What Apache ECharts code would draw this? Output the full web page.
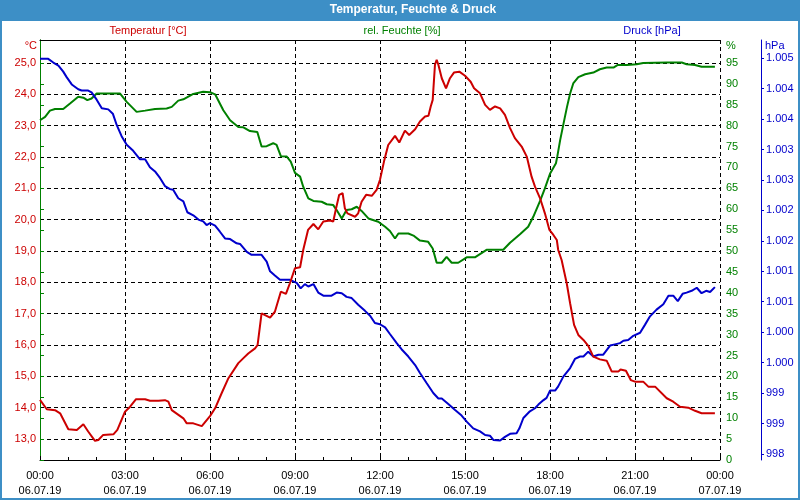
<!DOCTYPE html>
<html><head><meta charset="utf-8">
<script src="https://cdn.jsdelivr.net/npm/echarts@6/dist/echarts.min.js"></script>
<style>html,body{margin:0;padding:0;background:#fff}#c{width:800px;height:500px}</style>
</head><body><div id="c"></div><script>
// time in hours since 06.07.19 00:00
const tempTimes = [0,0.24,0.53,0.71,1.00,1.30,1.53,1.70,1.94,2.06,2.23,2.59,2.73,3.00,3.18,3.39,3.71,3.88,4.18,4.41,4.53,4.65,5.06,5.18,5.41,5.71,6.00,6.18,6.41,6.65,7.00,7.18,7.35,7.59,7.68,7.82,8.12,8.29,8.50,8.68,8.82,9.00,9.18,9.29,9.46,9.65,9.82,10.00,10.24,10.35,10.45,10.56,10.68,10.76,10.85,11.12,11.23,11.35,11.51,11.71,11.88,12.00,12.14,12.29,12.53,12.68,12.88,13.03,13.24,13.41,13.59,13.71,13.79,13.86,13.94,14.00,14.06,14.18,14.33,14.47,14.61,14.80,15.00,15.20,15.32,15.53,15.71,15.88,16.06,16.24,16.41,16.59,16.76,17.00,17.18,17.35,17.47,17.65,17.82,17.98,18.12,18.24,18.29,18.41,18.59,18.71,18.85,19.00,19.18,19.35,19.53,19.76,20.00,20.18,20.41,20.49,20.68,20.85,21.00,21.29,21.47,21.71,22.12,22.35,22.59,22.88,23.12,23.35,23.82];
const tempValues = [14.25,13.95,13.92,13.82,13.31,13.29,13.47,13.24,12.94,12.97,13.13,13.15,13.29,13.87,14.03,14.27,14.27,14.22,14.22,14.24,14.19,13.92,13.66,13.50,13.50,13.41,13.73,13.98,14.46,14.94,15.42,15.58,15.73,15.89,16.00,17.01,16.87,17.06,17.70,17.63,17.97,18.45,18.48,19.03,19.67,19.86,19.69,19.94,19.97,19.94,20.36,20.79,20.84,20.36,20.20,20.09,20.20,20.57,20.79,20.76,20.95,21.27,21.85,22.38,22.67,22.46,22.84,22.70,22.88,23.13,23.29,23.31,23.61,23.82,24.94,25.10,24.94,24.51,24.19,24.51,24.69,24.72,24.59,24.40,24.19,24.03,23.66,23.50,23.61,23.55,23.34,22.92,22.60,22.33,22.01,21.37,21.05,20.68,20.20,19.67,19.51,19.35,19.03,18.71,17.97,17.33,16.64,16.32,16.16,15.97,15.63,15.54,15.50,15.15,15.15,15.22,15.18,14.88,14.83,14.83,14.67,14.67,14.30,14.19,14.03,14.00,13.90,13.82,13.82];

const humTimes = [0,0.18,0.35,0.53,0.82,1.06,1.35,1.53,1.67,1.82,2.00,2.82,3.06,3.41,3.71,4.06,4.47,4.65,4.88,5.06,5.41,5.76,6.00,6.18,6.47,6.71,7.00,7.18,7.41,7.67,7.82,8.00,8.23,8.35,8.50,8.71,8.85,9.00,9.18,9.29,9.47,9.65,9.94,10.12,10.35,10.47,10.65,10.82,11.00,11.18,11.35,11.59,11.94,12.18,12.35,12.53,12.65,13.00,13.18,13.41,13.70,13.86,14.00,14.18,14.35,14.53,14.76,15.06,15.35,15.76,16.35,16.59,16.94,17.23,17.41,17.65,17.82,18.00,18.21,18.26,18.36,18.49,18.60,18.71,18.82,19.00,19.24,19.53,19.76,20.00,20.24,20.38,20.71,21.06,21.29,22.12,22.65,22.82,23.12,23.35,23.82];
const humValues = [81.3,82.1,83.6,84.0,84.0,85.3,86.9,86.7,86.1,86.5,87.7,87.7,85.7,83.3,83.6,84.0,84.1,84.5,86.0,86.3,87.6,88.1,88.0,87.5,83.7,81.3,79.7,79.6,78.7,78.5,75.0,75.1,75.8,75.4,72.7,72.6,71.4,68.7,67.8,65.4,62.6,62.0,61.8,61.2,61.0,59.8,57.8,59.8,60.0,60.6,59.6,57.8,57.0,55.8,54.8,53.0,54.2,54.2,53.7,52.5,52.2,50.6,47.2,47.2,48.6,47.2,47.2,48.5,48.5,50.3,50.3,52.0,54.0,55.8,58.2,62.0,65.0,68.5,71.0,72.7,76.6,80.9,84.5,87.7,90.1,91.6,92.3,92.7,93.5,93.9,93.9,94.5,94.5,94.7,95.0,95.1,95.1,94.7,94.5,94.1,94.1];

const presTimes = [0,0.29,0.47,0.65,0.82,0.94,1.12,1.35,1.47,1.70,1.82,2.00,2.18,2.41,2.57,2.71,2.88,3.06,3.29,3.53,3.71,3.88,4.06,4.24,4.41,4.59,4.70,4.88,5.06,5.20,5.41,5.59,5.76,5.88,6.00,6.18,6.35,6.53,6.71,6.94,7.06,7.30,7.47,7.82,8.00,8.12,8.29,8.47,8.82,9.06,9.20,9.35,9.47,9.65,9.82,10.00,10.29,10.47,10.65,10.82,11.00,11.23,11.47,11.65,11.82,12.00,12.18,12.35,12.59,12.76,13.00,13.24,13.41,13.65,13.88,14.06,14.18,14.41,14.65,14.88,15.06,15.29,15.53,15.71,15.88,16.00,16.24,16.41,16.59,16.82,16.92,17.06,17.29,17.47,17.59,17.76,17.88,18.00,18.18,18.29,18.47,18.71,18.88,19.06,19.18,19.35,19.53,19.71,19.88,20.12,20.29,20.47,20.59,20.76,20.94,21.18,21.35,21.53,21.76,22.00,22.18,22.35,22.51,22.68,22.82,23.00,23.18,23.35,23.51,23.65,23.82];
const presValues = [1004.99,1004.99,1004.93,1004.88,1004.78,1004.69,1004.57,1004.49,1004.47,1004.47,1004.44,1004.32,1004.18,1004.16,1004.09,1003.90,1003.72,1003.58,1003.48,1003.34,1003.34,1003.21,1003.14,1003.03,1002.90,1002.85,1002.84,1002.70,1002.65,1002.47,1002.42,1002.35,1002.32,1002.26,1002.29,1002.25,1002.15,1002.04,1002.03,1001.96,1001.95,1001.82,1001.77,1001.77,1001.66,1001.50,1001.43,1001.36,1001.36,1001.31,1001.22,1001.29,1001.25,1001.29,1001.15,1001.10,1001.10,1001.15,1001.14,1001.08,1001.06,1000.95,1000.85,1000.77,1000.65,1000.63,1000.58,1000.47,1000.32,1000.22,1000.10,999.96,999.83,999.66,999.50,999.41,999.41,999.32,999.22,999.13,999.03,998.92,998.87,998.81,998.80,998.73,998.72,998.78,998.83,998.84,998.92,999.09,999.20,999.25,999.31,999.38,999.42,999.54,999.54,999.61,999.77,999.91,1000.06,1000.10,1000.10,1000.18,1000.10,1000.13,1000.13,1000.28,1000.30,1000.32,1000.36,1000.37,1000.44,1000.49,1000.62,1000.76,1000.87,1000.96,1001.10,1001.10,1001.01,1001.13,1001.15,1001.18,1001.23,1001.14,1001.18,1001.16,1001.24];

const tempTicks = [13,14,15,16,17,18,19,20,21,22,23,24,25];
const humTicks = [0,5,10,15,20,25,30,35,40,45,50,55,60,65,70,75,80,85,90,95];
const presTicks = [998.5,999,999.5,1000,1000.5,1001,1001.5,1002,1002.5,1003,1003.5,1004,1004.5,1005];
const dayLabels = ['06.07.19','07.07.19'];

const RED = '#CC0000', GREEN = '#008000', BLUE = '#0000CC';
const FONT = 'Liberation Sans';
const zip = (t, v) => t.map((x, i) => [x, v[i]]);
const pad = n => (n < 10 ? '0' : '') + n;

const chart = echarts.init(document.getElementById('c'), null, {renderer: 'canvas'});
chart.setOption({
  animation: false,
  backgroundColor: '#ffffff',
  textStyle: {fontFamily: FONT},
  grid: {left: 40, right: 80, top: 40, bottom: 40, containLabel: false},
  graphic: [
    {type: 'rect', left: 0, top: 0, shape: {width: 800, height: 21}, style: {fill: '#3D8FC6'}, z: 0},
    {type: 'rect', left: 0, top: 0, shape: {width: 2, height: 500}, style: {fill: '#3D8FC6'}},
    {type: 'rect', left: 798, top: 0, shape: {width: 2, height: 500}, style: {fill: '#3D8FC6'}},
    {type: 'rect', left: 0, top: 498, shape: {width: 800, height: 2}, style: {fill: '#3D8FC6'}},
    {type: 'text', x: 413, y: 10, style: {text: 'Temperatur, Feuchte & Druck', fill: '#fff', font: 'bold 12px ' + FONT, align: 'center', verticalAlign: 'middle'}},
    {type: 'text', x: 148, y: 31, style: {text: 'Temperatur [°C]', fill: RED, font: '11px ' + FONT, align: 'center', verticalAlign: 'middle'}},
    {type: 'text', x: 402, y: 31, style: {text: 'rel. Feuchte [%]', fill: GREEN, font: '11px ' + FONT, align: 'center', verticalAlign: 'middle'}},
    {type: 'text', x: 652, y: 31, style: {text: 'Druck [hPa]', fill: BLUE, font: '11px ' + FONT, align: 'center', verticalAlign: 'middle'}},
    {type: 'text', x: 37, y: 46, style: {text: '°C', fill: RED, font: '11px ' + FONT, align: 'right', verticalAlign: 'middle'}},
    {type: 'text', x: 726, y: 46, style: {text: '%', fill: GREEN, font: '11px ' + FONT, align: 'left', verticalAlign: 'middle'}},
    {type: 'text', x: 765, y: 46, style: {text: 'hPa', fill: BLUE, font: '11px ' + FONT, align: 'left', verticalAlign: 'middle'}}
  ],
  xAxis: [{
    type: 'value', min: 0, max: 24, interval: 3, position: 'bottom',
    axisLine: {show: true, lineStyle: {color: '#000', width: 1}},
    axisTick: {show: true, inside: true, length: 4, lineStyle: {color: '#000'}},
    minorTick: {show: true, splitNumber: 3, length: 3, lineStyle: {color: '#000'}},
    splitLine: {show: true, lineStyle: {color: '#000', type: [4, 3], width: 1}},
    axisLabel: {
      color: '#000', fontSize: 11, lineHeight: 15, margin: 8, fontFamily: FONT,
      formatter: v => (v >= 24 ? '00:00\n' + dayLabels[1] : pad(v) + ':00\n' + dayLabels[0])
    }
  }, {
    type: 'value', min: 0, max: 24, position: 'top',
    axisLine: {show: true, lineStyle: {color: '#000', width: 1}},
    axisTick: {show: false}, axisLabel: {show: false}, splitLine: {show: false}
  }],
  yAxis: [{
    type: 'value', position: 'left', min: 12.33, max: 25.73,
    axisLine: {show: true, lineStyle: {color: '#000'}},
    axisTick: {show: false, customValues: tempTicks},
    axisLabel: {customValues: tempTicks, color: RED, fontSize: 11, margin: 4, fontFamily: FONT,
      formatter: v => v.toFixed(1).replace('.', ',')},
    splitLine: {show: true, lineStyle: {color: '#000', type: [4, 3], width: 1}}
  }, {
    type: 'value', position: 'right', min: 0, max: 100.5,
    axisLine: {show: true, lineStyle: {color: GREEN, width: 1}},
    axisTick: {show: true, length: 4, customValues: humTicks, lineStyle: {color: GREEN}},
    axisLabel: {customValues: humTicks, color: GREEN, fontSize: 11, margin: 6, fontFamily: FONT},
    splitLine: {show: false}
  }, {
    type: 'value', position: 'right', offset: 41, min: 998.40, max: 1005.30,
    axisLine: {show: true, lineStyle: {color: BLUE, width: 1}},
    axisTick: {show: true, length: 3, customValues: presTicks, lineStyle: {color: BLUE}},
    axisLabel: {customValues: presTicks, color: BLUE, fontSize: 11, margin: 5, fontFamily: FONT,
      formatter: v => {
        const n = Math.floor(v + 1e-9);
        return n >= 1000 ? Math.floor(n / 1000) + '.' + String(n % 1000).padStart(3, '0') : String(n);
      }},
    splitLine: {show: false}
  }],
  series: [{
    name: 'rel. Feuchte [%]', type: 'line', xAxisIndex: 0, yAxisIndex: 1,
    data: zip(humTimes, humValues), showSymbol: false, symbol: 'none',
    lineStyle: {color: GREEN, width: 2}, z: 3
  }, {
    name: 'Druck [hPa]', type: 'line', xAxisIndex: 0, yAxisIndex: 2,
    data: zip(presTimes, presValues), showSymbol: false, symbol: 'none',
    lineStyle: {color: BLUE, width: 2}, z: 4
  }, {
    name: 'Temperatur [°C]', type: 'line', xAxisIndex: 0, yAxisIndex: 0,
    data: zip(tempTimes, tempValues), showSymbol: false, symbol: 'none',
    lineStyle: {color: RED, width: 2}, z: 5
  }]
});
</script></body></html>
